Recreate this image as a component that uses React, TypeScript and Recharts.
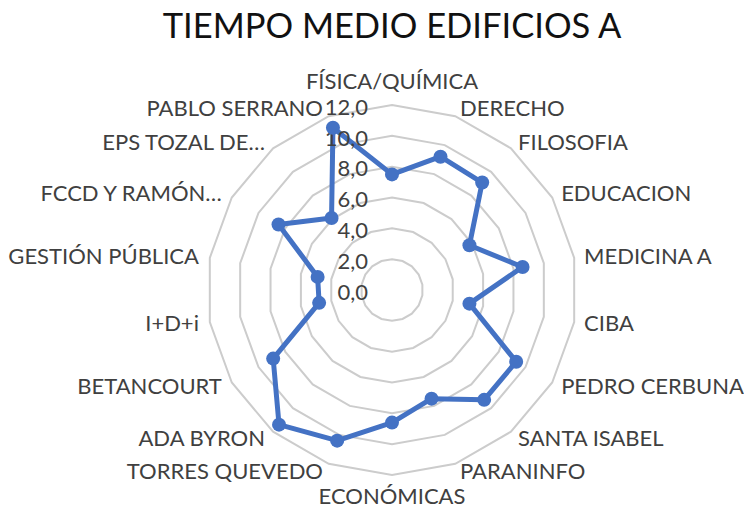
import { PolarAngleAxis, PolarGrid, PolarRadiusAxis, Radar, RadarChart } from "recharts";

const edificios = [
  "FÍSICA/QUÍMICA",
  "DERECHO",
  "FILOSOFIA",
  "EDUCACION",
  "MEDICINA A",
  "CIBA",
  "PEDRO CERBUNA",
  "SANTA ISABEL",
  "PARANINFO",
  "ECONÓMICAS",
  "TORRES QUEVEDO",
  "ADA BYRON",
  "BETANCOURT",
  "I+D+i",
  "GESTIÓN PÚBLICA",
  "FCCD Y RAMÓN…",
  "EPS TOZAL DE…",
  "PABLO SERRANO",
];

const tiempoMedio = [7.5, 9.2, 9.1, 5.8, 8.6, 5.1, 9.3, 9.3, 7.5, 8.6, 10.4, 11.4, 8.9, 4.8, 4.9, 8.5, 6.1, 11.2];

const radiusTicks = [0, 2, 4, 6, 8, 10, 12];

const data = edificios.map((name, i) => ({ name, tiempo: tiempoMedio[i] }));

const CX = 392;
const CY = 290;
const BLUE = "#4472C4";
const FONT = "Lato, 'Noto Sans', sans-serif";

function AngleTick(props: any) {
  const { x, y, payload, textAnchor } = props;
  const dx = x - CX;
  const dy = CY - y;
  const len = Math.sqrt(dx * dx + dy * dy) || 1;
  let shiftY = 0;
  if (Math.abs(dx / len) < 0.05) {
    shiftY = dy > 0 ? -16 : 13;
  }
  const shiftX = textAnchor === "start" ? 2 : textAnchor === "end" ? -3 : 0;
  return (
    <text
      x={x + shiftX}
      y={y + shiftY}
      dy="0.35em"
      textAnchor={textAnchor}
      fill="#404040"
      fontSize={22}
      fontFamily={FONT}
    >
      {payload.value}
    </text>
  );
}

function RadiusTick(props: any) {
  const { x, y, payload } = props;
  return (
    <text x={x - 24} y={y + 2} dy="0.35em" textAnchor="end" fill="#404040" fontSize={22} fontFamily={FONT}>
      {payload.value.toFixed(1).replace(".", ",")}
    </text>
  );
}

function Dot(props: any) {
  const { cx, cy } = props;
  return <circle cx={cx} cy={cy} r={7} fill={BLUE} stroke="none" />;
}

export default function App() {
  return (
    <div style={{ position: "absolute", left: 0, top: 0, width: 744, height: 512, background: "#fff" }}>
      <div
        style={{
          position: "absolute",
          left: 0,
          width: 784,
          top: 3,
          textAlign: "center",
          fontFamily: FONT,
          fontSize: 34.5,
          color: "#111",
          lineHeight: "44px",
        }}
      >
        TIEMPO MEDIO EDIFICIOS A
      </div>
      <RadarChart
        width={744}
        height={512}
        data={data}
        cx={CX}
        cy={CY}
        outerRadius={185}
        margin={{ top: 0, right: 0, bottom: 0, left: 0 }}
      >
        <PolarGrid gridType="polygon" radialLines={false} stroke="#cccccc" strokeWidth={2} />
        <PolarAngleAxis dataKey="name" tick={<AngleTick />} tickLine={false} axisLine={false} />
        <PolarRadiusAxis
          angle={90}
          domain={[0, 12]}
          ticks={radiusTicks as any}
          tickCount={7}
          axisLine={false}
          tickLine={false}
          tick={<RadiusTick />}
        />
        <Radar
          dataKey="tiempo"
          stroke={BLUE}
          strokeWidth={5}
          strokeLinejoin="round"
          fill="none"
          fillOpacity={0}
          dot={<Dot />}
          isAnimationActive={false}
        />
      </RadarChart>
    </div>
  );
}
